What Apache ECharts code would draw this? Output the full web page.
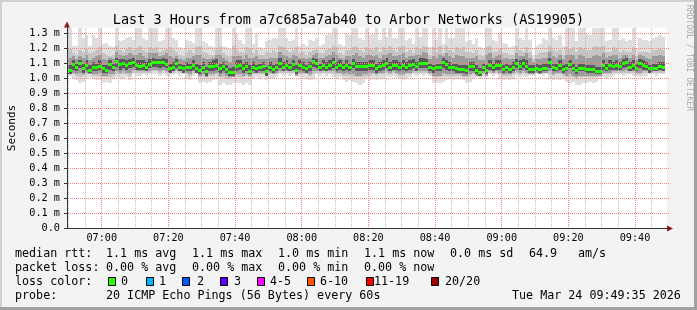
<!DOCTYPE html>
<html><head><meta charset="utf-8">
<script src="https://cdn.jsdelivr.net/npm/echarts@6/dist/echarts.min.js"></script>
<style>html,body{margin:0;padding:0;background:#f3f3f3}#c{width:697px;height:310px}</style>
</head><body><div id="c"></div>
<script>
// ---------- data ----------
const titleText = 'Last 3 Hours from a7c685a7ab40 to Arbor Networks (AS19905)';
const windowStart = '06:49:35';
const windowEnd = '09:49:35';
const firstBucketEnd = '06:50';   // each value is a 60 s bucket
const xTickLabels = ['07:00','07:20','07:40','08:00','08:20','08:40','09:00','09:20','09:40'];
const yTickValues = [0,0.1,0.2,0.3,0.4,0.5,0.6,0.7,0.8,0.9,1.0,1.1,1.2,1.3];
const yTickLabels = ['0.0','0.1 m','0.2 m','0.3 m','0.4 m','0.5 m','0.6 m','0.7 m','0.8 m','0.9 m','1.0 m','1.1 m','1.2 m','1.3 m'];

// median rtt per minute (ms)
const median = [
1.076,1.054,1.094,1.076,1.100,1.065,1.089,1.056,1.076,1.076,1.083,1.065,1.056,1.094,1.076,1.116,1.094,1.100,1.089,1.100,1.107,1.089,1.083,1.089,1.076,1.094,1.107,1.107,1.107,1.107,
1.094,1.067,1.076,1.103,1.076,1.065,1.072,1.072,1.089,1.065,1.054,1.076,1.047,1.083,1.083,1.089,1.067,1.081,1.063,1.040,1.040,1.083,1.089,1.067,1.081,1.049,1.076,1.065,1.072,1.081,
1.045,1.076,1.058,1.072,1.103,1.076,1.089,1.072,1.094,1.054,1.089,1.076,1.065,1.081,1.116,1.103,1.072,1.089,1.076,1.089,1.107,1.076,1.089,1.076,1.089,1.076,1.098,1.081,1.081,1.081,
1.081,1.085,1.089,1.067,1.081,1.085,1.103,1.076,1.085,1.089,1.076,1.085,1.076,1.085,1.094,1.081,1.103,1.103,1.103,1.076,1.065,1.072,1.072,1.107,1.094,1.076,1.072,1.067,1.058,1.058,
1.056,1.078,1.081,1.054,1.040,1.076,1.056,1.085,1.072,1.085,1.089,1.058,1.072,1.058,1.076,1.098,1.083,1.098,1.083,1.063,1.063,1.067,1.063,1.067,1.067,1.107,1.076,1.067,1.089,1.058,
1.069,1.094,1.069,1.054,1.069,1.069,1.063,1.063,1.058,1.049,1.049,1.089,1.069,1.089,1.081,1.089,1.081,1.100,1.107,1.076,1.089,1.069,1.103,1.089,1.081,1.065,1.069,1.069,1.081,1.076];
// slowest ping per minute (ms)
const pMax = [
1.34,1.34,1.22,1.22,1.34,1.27,1.29,1.22,1.29,1.27,1.34,1.23,1.24,1.22,1.21,1.34,1.25,1.26,1.27,1.28,1.26,1.34,1.34,1.27,1.26,1.34,1.34,1.34,1.25,1.26,
1.34,1.34,1.27,1.26,1.21,1.20,1.26,1.25,1.24,1.34,1.34,1.25,1.24,1.22,1.21,1.34,1.34,1.22,1.21,1.20,1.34,1.30,1.26,1.23,1.34,1.34,1.23,1.30,1.21,1.20,
1.25,1.26,1.27,1.27,1.34,1.34,1.27,1.25,1.26,1.34,1.22,1.23,1.22,1.26,1.25,1.27,1.22,1.23,1.29,1.30,1.34,1.34,1.23,1.22,1.30,1.29,1.34,1.34,1.27,1.26,
1.34,1.29,1.30,1.34,1.26,1.34,1.28,1.34,1.27,1.27,1.34,1.34,1.26,1.27,1.23,1.34,1.28,1.34,1.34,1.21,1.34,1.26,1.34,1.23,1.34,1.27,1.27,1.34,1.34,1.34,
1.25,1.26,1.23,1.27,1.21,1.20,1.34,1.34,1.26,1.25,1.30,1.24,1.23,1.21,1.22,1.34,1.27,1.26,1.34,1.26,1.16,1.22,1.23,1.27,1.26,1.34,1.27,1.26,1.29,1.22,
1.34,1.34,1.34,1.25,1.34,1.34,1.30,1.29,1.34,1.34,1.34,1.34,1.25,1.26,1.34,1.34,1.26,1.27,1.25,1.26,1.34,1.20,1.27,1.26,1.26,1.25,1.27,1.28,1.29,1.28];
// upper outer smoke band
const pHi = [
1.18,1.20,1.17,1.16,1.19,1.18,1.20,1.17,1.18,1.19,1.21,1.17,1.16,1.15,1.16,1.22,1.19,1.18,1.20,1.21,1.19,1.20,1.22,1.19,1.18,1.21,1.20,1.21,1.18,1.19,
1.20,1.21,1.19,1.18,1.16,1.15,1.18,1.19,1.17,1.21,1.22,1.18,1.17,1.16,1.16,1.20,1.21,1.17,1.16,1.15,1.22,1.19,1.18,1.17,1.21,1.20,1.17,1.19,1.16,1.16,
1.18,1.17,1.19,1.18,1.22,1.21,1.19,1.18,1.19,1.21,1.17,1.18,1.16,1.18,1.19,1.20,1.17,1.17,1.19,1.20,1.22,1.21,1.17,1.16,1.19,1.19,1.21,1.22,1.19,1.18,
1.21,1.20,1.19,1.21,1.18,1.21,1.19,1.22,1.19,1.18,1.21,1.22,1.18,1.19,1.17,1.21,1.20,1.22,1.21,1.16,1.21,1.18,1.22,1.17,1.22,1.19,1.18,1.21,1.20,1.21,
1.18,1.18,1.17,1.19,1.16,1.15,1.21,1.22,1.18,1.18,1.20,1.17,1.17,1.16,1.16,1.22,1.19,1.18,1.21,1.18,1.13,1.16,1.17,1.18,1.18,1.22,1.19,1.18,1.19,1.16,
1.21,1.20,1.21,1.18,1.21,1.20,1.19,1.19,1.21,1.22,1.21,1.22,1.18,1.18,1.21,1.20,1.18,1.19,1.18,1.18,1.21,1.15,1.18,1.18,1.18,1.17,1.19,1.19,1.20,1.19];
// lower outer smoke band
const pLo = [
1.03,1.03,1.03,1.02,1.01,1.02,1.03,1.03,1.02,1.02,1.02,1.01,1.01,1.01,1.02,1.03,1.03,1.03,1.03,1.02,1.04,1.04,1.04,1.04,1.04,1.04,1.05,1.05,1.04,1.05,
1.04,1.04,1.04,1.05,1.04,1.04,1.03,1.02,1.04,1.04,1.01,1.02,1.01,1.02,1.02,1.03,1.01,1.01,1.00,1.00,1.01,1.02,1.01,1.01,1.02,1.01,1.03,1.03,1.03,1.03,
1.02,1.03,1.03,1.03,1.04,1.04,1.04,1.04,1.04,1.03,1.03,1.03,1.03,1.02,1.03,1.04,1.04,1.04,1.04,1.04,1.03,1.03,1.03,1.02,1.02,1.02,1.01,1.01,1.01,1.01,
1.02,1.02,1.03,1.02,1.03,1.03,1.04,1.03,1.04,1.03,1.02,1.02,1.03,1.03,1.04,1.04,1.04,1.04,1.04,1.03,1.01,1.01,1.01,1.02,1.02,1.02,1.02,1.02,1.02,1.01,
1.01,1.02,1.03,1.03,1.02,1.03,1.03,1.04,1.04,1.04,1.03,1.02,1.02,1.02,1.03,1.04,1.03,1.04,1.03,1.03,1.04,1.04,1.04,1.04,1.04,1.03,1.02,1.03,1.03,1.02,
1.01,1.01,1.01,1.00,1.01,1.01,1.01,1.01,1.01,1.01,1.02,1.03,1.03,1.03,1.04,1.04,1.04,1.04,1.04,1.04,1.04,1.03,1.03,1.04,1.04,1.04,1.04,1.04,1.04,1.04];
// fastest ping per minute (ms)
const pMin = [
1.02,1.02,1.00,0.99,0.97,0.98,1.00,1.01,1.00,0.99,0.99,0.97,0.98,0.97,1.00,1.01,1.00,1.00,1.01,0.99,1.03,1.02,1.02,1.03,1.02,1.03,1.03,1.03,1.02,1.03,
1.02,1.02,1.03,1.03,1.02,1.03,1.00,0.99,1.02,1.03,0.97,0.98,0.97,0.98,0.99,1.00,0.96,0.97,0.96,0.96,0.97,0.98,0.97,0.96,0.97,0.96,1.00,1.01,1.00,1.01,
0.99,1.00,1.00,1.01,1.03,1.02,1.03,1.02,1.03,1.02,1.01,1.01,1.00,0.99,1.00,1.03,1.02,1.03,1.02,1.03,1.01,1.00,1.01,0.99,0.98,0.99,0.98,0.97,0.96,0.97,
1.00,0.99,1.00,0.99,1.00,1.00,1.02,1.01,1.02,1.01,1.00,0.99,1.00,1.01,1.03,1.02,1.03,1.02,1.03,1.02,0.97,0.98,0.97,0.98,0.99,1.00,0.99,1.00,1.00,0.99,
0.97,0.98,1.00,1.01,1.00,1.01,1.02,1.03,1.02,1.03,1.00,0.99,1.00,0.99,1.00,1.02,1.01,1.02,1.01,1.02,1.02,1.03,1.03,1.02,1.03,1.00,0.99,1.00,0.99,1.00,
0.98,0.97,0.98,0.96,0.96,0.97,0.97,0.98,0.97,0.98,1.00,1.01,1.00,1.01,1.02,1.03,1.03,1.02,1.03,1.03,1.02,1.02,1.01,1.02,1.02,1.03,1.03,1.02,1.03,1.03];
// inner smoke band, upper / lower
const qHi = [
1.13,1.14,1.15,1.13,1.15,1.14,1.16,1.12,1.14,1.15,1.16,1.13,1.12,1.14,1.13,1.18,1.16,1.15,1.16,1.17,1.16,1.16,1.17,1.15,1.14,1.17,1.17,1.17,1.15,1.16,
1.17,1.15,1.14,1.15,1.13,1.12,1.14,1.14,1.15,1.16,1.16,1.14,1.13,1.13,1.14,1.16,1.16,1.14,1.12,1.11,1.15,1.15,1.15,1.13,1.16,1.14,1.14,1.15,1.13,1.13,
1.13,1.14,1.14,1.14,1.18,1.16,1.15,1.14,1.16,1.15,1.14,1.14,1.13,1.14,1.16,1.17,1.14,1.14,1.15,1.16,1.18,1.16,1.14,1.13,1.15,1.15,1.16,1.17,1.15,1.14,
1.16,1.16,1.15,1.16,1.14,1.16,1.16,1.17,1.15,1.15,1.16,1.17,1.14,1.15,1.15,1.16,1.16,1.18,1.17,1.13,1.15,1.14,1.16,1.15,1.17,1.15,1.14,1.16,1.15,1.15,
1.14,1.14,1.14,1.15,1.12,1.12,1.16,1.17,1.14,1.15,1.16,1.13,1.14,1.13,1.13,1.17,1.15,1.15,1.17,1.14,1.11,1.13,1.13,1.14,1.14,1.18,1.15,1.14,1.16,1.13,
1.16,1.16,1.16,1.13,1.16,1.15,1.14,1.14,1.15,1.16,1.15,1.17,1.14,1.15,1.16,1.16,1.14,1.16,1.16,1.14,1.16,1.12,1.16,1.15,1.14,1.13,1.15,1.15,1.16,1.15];
const qLo = [
1.04,1.03,1.04,1.03,1.04,1.03,1.04,1.03,1.03,1.03,1.04,1.02,1.02,1.03,1.03,1.05,1.04,1.05,1.04,1.04,1.06,1.05,1.05,1.05,1.05,1.05,1.06,1.06,1.05,1.06,
1.05,1.05,1.05,1.06,1.05,1.05,1.04,1.03,1.05,1.05,1.02,1.03,1.01,1.03,1.03,1.04,1.02,1.03,1.02,1.01,1.01,1.03,1.03,1.02,1.03,1.02,1.04,1.04,1.04,1.04,
1.02,1.04,1.03,1.04,1.05,1.05,1.05,1.05,1.05,1.02,1.04,1.04,1.04,1.03,1.05,1.05,1.05,1.05,1.05,1.05,1.05,1.04,1.04,1.03,1.04,1.03,1.03,1.02,1.02,1.03,
1.03,1.04,1.04,1.03,1.04,1.04,1.05,1.04,1.05,1.04,1.03,1.03,1.04,1.04,1.05,1.05,1.05,1.05,1.05,1.04,1.02,1.02,1.02,1.04,1.03,1.03,1.03,1.03,1.03,1.02,
1.02,1.03,1.04,1.02,1.02,1.04,1.02,1.05,1.04,1.05,1.04,1.03,1.03,1.03,1.04,1.05,1.04,1.05,1.04,1.03,1.03,1.04,1.03,1.04,1.04,1.05,1.03,1.04,1.04,1.03,
1.02,1.03,1.02,1.01,1.02,1.02,1.02,1.02,1.02,1.02,1.02,1.04,1.04,1.04,1.05,1.05,1.05,1.05,1.06,1.05,1.05,1.04,1.04,1.05,1.05,1.05,1.05,1.05,1.05,1.05];
// dense core of pings, upper / lower
const cHi = [
1.10,1.09,1.12,1.10,1.12,1.10,1.12,1.09,1.11,1.10,1.12,1.09,1.09,1.12,1.10,1.14,1.13,1.13,1.12,1.13,1.14,1.12,1.12,1.12,1.11,1.13,1.14,1.13,1.13,1.14,
1.13,1.10,1.11,1.13,1.10,1.09,1.11,1.10,1.12,1.10,1.09,1.11,1.08,1.11,1.12,1.13,1.10,1.11,1.09,1.07,1.08,1.12,1.12,1.10,1.11,1.09,1.11,1.09,1.10,1.11,
1.08,1.11,1.09,1.10,1.14,1.11,1.12,1.10,1.12,1.09,1.12,1.11,1.09,1.11,1.14,1.13,1.10,1.12,1.11,1.12,1.14,1.11,1.12,1.10,1.12,1.10,1.13,1.11,1.11,1.11,
1.11,1.12,1.12,1.10,1.11,1.12,1.14,1.11,1.12,1.12,1.11,1.12,1.11,1.12,1.13,1.11,1.14,1.14,1.13,1.10,1.09,1.10,1.10,1.14,1.12,1.11,1.10,1.10,1.09,1.09,
1.09,1.11,1.11,1.09,1.07,1.10,1.09,1.12,1.10,1.12,1.12,1.09,1.10,1.09,1.11,1.13,1.12,1.13,1.12,1.09,1.09,1.10,1.09,1.10,1.10,1.14,1.10,1.10,1.12,1.09,
1.10,1.12,1.10,1.08,1.10,1.10,1.09,1.09,1.09,1.08,1.08,1.12,1.10,1.12,1.11,1.12,1.11,1.13,1.14,1.11,1.12,1.10,1.13,1.12,1.11,1.09,1.10,1.10,1.11,1.11];
const cLo = [
1.05,1.03,1.06,1.05,1.07,1.04,1.06,1.04,1.05,1.05,1.06,1.04,1.04,1.06,1.05,1.08,1.06,1.07,1.06,1.07,1.08,1.06,1.06,1.06,1.05,1.07,1.08,1.08,1.07,1.08,
1.07,1.04,1.05,1.07,1.05,1.04,1.05,1.05,1.06,1.04,1.03,1.05,1.02,1.05,1.05,1.06,1.04,1.05,1.04,1.02,1.02,1.05,1.06,1.04,1.05,1.03,1.05,1.04,1.05,1.05,
1.02,1.05,1.04,1.05,1.07,1.05,1.06,1.05,1.06,1.03,1.06,1.05,1.04,1.05,1.08,1.07,1.05,1.06,1.05,1.06,1.07,1.05,1.06,1.05,1.06,1.05,1.07,1.05,1.05,1.05,
1.05,1.06,1.06,1.04,1.05,1.06,1.07,1.05,1.06,1.06,1.05,1.06,1.05,1.06,1.07,1.05,1.07,1.07,1.07,1.05,1.04,1.05,1.05,1.07,1.06,1.05,1.05,1.04,1.04,1.04,
1.03,1.05,1.05,1.03,1.02,1.05,1.03,1.06,1.05,1.06,1.06,1.04,1.05,1.04,1.05,1.07,1.06,1.07,1.06,1.04,1.04,1.05,1.04,1.05,1.05,1.07,1.05,1.05,1.06,1.04,
1.05,1.07,1.05,1.03,1.05,1.05,1.04,1.04,1.04,1.03,1.03,1.06,1.05,1.06,1.06,1.06,1.06,1.07,1.08,1.05,1.06,1.05,1.07,1.06,1.06,1.04,1.05,1.05,1.06,1.05];

const legendRow1 = ['median rtt:','1.1 ms avg','1.1 ms max','1.0 ms min','1.1 ms now','0.0 ms sd','64.9','am/s'];
const legendRow2 = ['packet loss:','0.00 % avg','0.00 % max','0.00 % min','0.00 % now'];
const lossLabels = ['0','1','2','3','4-5','6-10','11-19','20/20'];
const lossColors = ['#26ff00','#00b8ff','#0059ff','#5e00ff','#ff00ff','#ff5500','#ff0000','#a10000'];
const probeText = '20 ICMP Echo Pings (56 Bytes) every 60s';
const dateText = 'Tue Mar 24 09:49:35 2026';

// ---------- helpers ----------
function toMin(s){const p=s.split(':').map(Number);return p[0]*60+p[1]+(p[2]||0)/60;}
const xMin = toMin(windowStart), xMax = toMin(windowEnd);
const bucket0 = toMin(firstBucketEnd) - 1;
const xTickValues = xTickLabels.map(toMin);
const yMax = 1.34;
function band(lo, hi){ return lo.map((v,i)=>[bucket0+i, bucket0+i+1, v, hi[i]]); }
function medBand(){ return median.map((v,i)=>[bucket0+i, bucket0+i+1, v]); }
function clipTo(params, r){
  const c = params.coordSys;
  return echarts.graphic.clipRectByRect(r, {x:c.x,y:c.y,width:c.width,height:c.height});
}
function rectItem(color){
  return function(params, api){
    const a = api.coord([api.value(0), api.value(3)]);
    const b = api.coord([api.value(1), api.value(2)]);
    const x0 = Math.round(a[0]), x1 = Math.round(b[0]);
    const y0 = Math.round(a[1]), y1 = Math.round(b[1]);
    const shape = clipTo(params, {x:x0,y:y0,width:x1-x0,height:y1-y0});
    if(!shape) return;
    return {type:'rect', shape, style:{fill:color}};
  };
}
function medItem(params, api){
  const a = api.coord([api.value(0), api.value(2)]);
  const b = api.coord([api.value(1), api.value(2)]);
  const x0 = Math.round(a[0]), x1 = Math.round(b[0]);
  const shape = clipTo(params, {x:x0,y:Math.round(a[1]-1.5),width:x1-x0,height:3});
  if(!shape) return;
  return {type:'rect', shape, style:{fill:'#26ff00'}};
}

const MONO = 'DejaVu Sans Mono';
const MAJOR = '#ff8080', MINOR = '#bcbcbc';
// grid lines: [minute or value, orientation(0 = vertical, 1 = horizontal), major flag]
const gridLines = [];
for(let m=Math.ceil(xMin/5)*5; m<xMax; m+=5){ gridLines.push([m, 0, xTickValues.some(t=>Math.abs(t-m)<1e-6)?1:0]); }
yTickValues.filter(v=>v>0).forEach(v=>gridLines.push([v, 1, 1]));
function gridItem(params, api){
  const c = params.coordSys;
  const v = api.value(0), horiz = api.value(1), major = api.value(2);
  const style = {stroke: major ? MAJOR : MINOR, lineWidth:1, lineDash:[1,1]};
  const top = Math.round(c.y), bottom = Math.round(c.y + c.height);
  if(horiz){
    const y = Math.round(api.coord([xMin, v])[1]-0.5)+0.5;
    return {type:'line', shape:{x1:Math.round(c.x)+1, y1:y, x2:Math.round(c.x+c.width)+2, y2:y}, style};
  }
  const x = Math.round(api.coord([v, 0])[0]-0.5)+0.5;
  return {type:'line', shape:{x1:x, y1:top, x2:x, y2:bottom}, style};
}

const chart = echarts.init(document.getElementById('c'), null, {renderer:'canvas'});

const graphics = [];
// frame
graphics.push({type:'rect', shape:{x:0,y:0,width:697,height:2}, style:{fill:'#d0d0d0'}, silent:true});
graphics.push({type:'rect', shape:{x:0,y:0,width:2,height:310}, style:{fill:'#d0d0d0'}, silent:true});
graphics.push({type:'rect', shape:{x:0,y:307,width:697,height:3}, style:{fill:'#a0a0a0'}, silent:true});
graphics.push({type:'rect', shape:{x:694,y:0,width:3,height:310}, style:{fill:'#a0a0a0'}, silent:true});
// watermark
graphics.push({type:'text', x:689, y:5, rotation:-Math.PI/2, style:{text:'RRDTOOL / TOBI OETIKER', font:'8px '+MONO, fill:'#aaaaaa', align:'left', verticalAlign:'middle'}, silent:true});
// legend rows
const font = '11.7px "'+MONO+'"';
const row1X = [15,106,192,278,364,450,529,578];
legendRow1.forEach((t,i)=>graphics.push({type:'text', x:row1X[i], y:254, style:{text:t, font, fill:'#000', verticalAlign:'middle'}}));
const row2X = [15,106,192,278,364];
legendRow2.forEach((t,i)=>graphics.push({type:'text', x:row2X[i], y:268, style:{text:t, font, fill:'#000', verticalAlign:'middle'}}));
graphics.push({type:'text', x:15, y:282, style:{text:'loss color:', font, fill:'#000', verticalAlign:'middle'}});
const sqX = [108,146,182,220,257,307,366,431];
const lbX = [121,159,197,234,270,320,374,445];
lossLabels.forEach((t,i)=>{
  graphics.push({type:'rect', shape:{x:sqX[i]+0.5,y:277.5,width:7,height:8}, style:{fill:lossColors[i], stroke:'#000', lineWidth:1}});
  graphics.push({type:'text', x:lbX[i], y:282, style:{text:t, font, fill:'#000', verticalAlign:'middle'}});
});
graphics.push({type:'text', x:15, y:296, style:{text:'probe:', font, fill:'#000', verticalAlign:'middle'}});
graphics.push({type:'text', x:106, y:296, style:{text:probeText, font, fill:'#000', verticalAlign:'middle'}});
graphics.push({type:'text', x:512, y:296, style:{text:dateText, font, fill:'#000', verticalAlign:'middle'}});

chart.setOption({
  animation:false,
  backgroundColor:'#f3f3f3',
  title:{text:titleText, left:'center', top:8, textStyle:{fontFamily:MONO, fontSize:13.5, fontWeight:'normal', color:'#000'}},
  grid:{left:67, top:27.5, width:600, height:201, show:true, backgroundColor:'#ffffff', borderWidth:0, containLabel:false, outerBoundsMode:'none'},
  xAxis:{type:'value', min:xMin, max:xMax, z:12,
    axisLine:{show:true, onZero:false, lineStyle:{color:'#333', width:1}},
    axisTick:{show:false},
    splitLine:{show:false},
    axisLabel:{customValues:xTickValues, margin:5, fontFamily:MONO, fontSize:10.2, color:'#000',
      formatter:(v)=>{const i=xTickValues.findIndex(t=>Math.abs(t-v)<1e-6);return i>=0?xTickLabels[i]:'';}}},
  yAxis:{type:'value', min:0, max:yMax, z:12,
    name:'Seconds', nameLocation:'middle', nameGap:49, nameRotate:90,
    nameTextStyle:{fontFamily:MONO, fontSize:11, color:'#000'},
    axisLine:{show:true, lineStyle:{color:'#333', width:1}},
    axisTick:{show:true, customValues:yTickValues, length:3, lineStyle:{color:'#333'}},
    splitLine:{show:false},
    axisLabel:{customValues:yTickValues, margin:7, fontFamily:MONO, fontSize:10.2, color:'#000',
      formatter:(v)=>{const i=yTickValues.findIndex(t=>Math.abs(t-v)<1e-6);return i>=0?yTickLabels[i]:'';}}},
  graphic:graphics,
  series:[
    {type:'custom', name:'outer', z:2, renderItem:rectItem('#dedede'), data:band(pMin,pMax), encode:{x:[0,1], y:[2,3]}, silent:true},
    {type:'custom', name:'mid', z:3, renderItem:rectItem('#c4c4c4'), data:band(pLo,pHi), encode:{x:[0,1], y:[2,3]}, silent:true},
    {type:'custom', name:'inner', z:3, renderItem:rectItem('#9c9c9c'), data:band(qLo,qHi), encode:{x:[0,1], y:[2,3]}, silent:true},
    {type:'custom', name:'core', z:4, renderItem:rectItem('#5a5a5a'), data:band(cLo,cHi), encode:{x:[0,1], y:[2,3]}, silent:true},
    {type:'custom', name:'grid', z:5, renderItem:gridItem, data:gridLines, encode:{x:0}, silent:true, clip:false},
    {type:'custom', name:'median', z:10, renderItem:medItem, data:medBand(), encode:{x:[0,1], y:[2]}, silent:true},
    {type:'line', name:'arrows', z:12, data:[], silent:true, symbol:'none',
      markPoint:{silent:true, label:{show:false}, animation:false,
        data:[
          {coord:[xMax,0], symbol:'triangle', symbolSize:[6,6], symbolRotate:-90, symbolOffset:[3,0], itemStyle:{color:'#8b1a1a'}},
          {coord:[xMin,yMax], symbol:'triangle', symbolSize:[6,6], symbolOffset:[0,-3], itemStyle:{color:'#8b1a1a'}}
        ]}}
  ]
});
</script></body></html>
